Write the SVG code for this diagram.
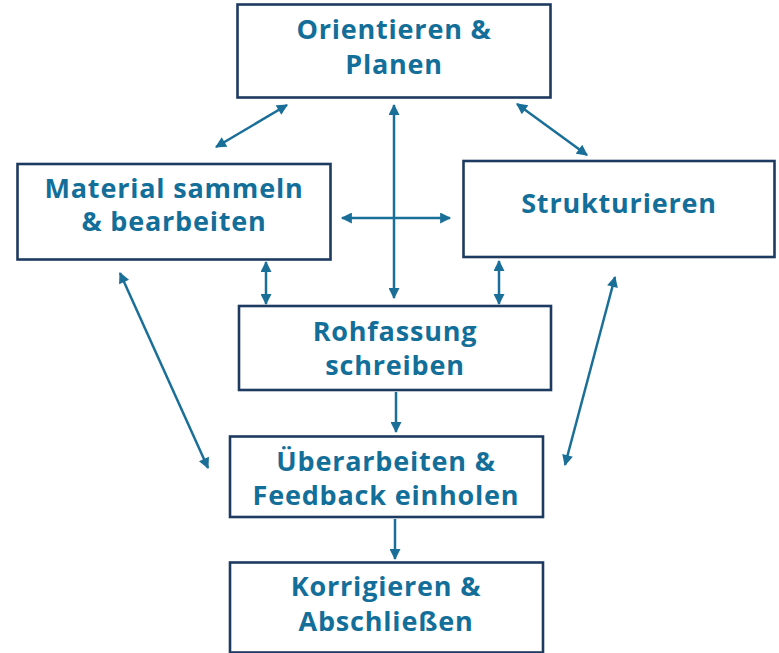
<svg xmlns="http://www.w3.org/2000/svg" width="779" height="653" viewBox="0 0 779 653">
<style>
.box{fill:#ffffff;stroke:#1d3a60;stroke-width:2.6}
.lbl{font-family:"Open Sans","Noto Sans","Liberation Sans",sans-serif;font-weight:700;font-size:27px;letter-spacing:0.8px;fill:#136f99;text-anchor:middle}
.con{stroke:#1a6f99;stroke-width:2.5;fill:none}
</style>
<defs>
<marker id="ah" viewBox="0 0 10 10" refX="9" refY="5" markerWidth="12" markerHeight="11" markerUnits="userSpaceOnUse" orient="auto-start-reverse">
<path d="M0,0 L10,5 L0,10 z" fill="#1a6f99"/>
</marker>
</defs>
<rect width="779" height="653" fill="#ffffff"/>
<g id="connectors">
<line class="con" x1="287" y1="105" x2="216" y2="147" marker-start="url(#ah)" marker-end="url(#ah)"/>
<line class="con" x1="517" y1="104" x2="587" y2="155" marker-start="url(#ah)" marker-end="url(#ah)"/>
<line class="con" x1="394" y1="105" x2="394" y2="298" marker-start="url(#ah)" marker-end="url(#ah)"/>
<line class="con" x1="342" y1="218" x2="450" y2="218" marker-start="url(#ah)" marker-end="url(#ah)"/>
<line class="con" x1="266" y1="262" x2="266" y2="304" marker-start="url(#ah)" marker-end="url(#ah)"/>
<line class="con" x1="499" y1="261" x2="499" y2="304" marker-start="url(#ah)" marker-end="url(#ah)"/>
<line class="con" x1="120" y1="273" x2="208" y2="468" marker-start="url(#ah)" marker-end="url(#ah)"/>
<line class="con" x1="615" y1="277" x2="565" y2="465" marker-start="url(#ah)" marker-end="url(#ah)"/>
<line class="con" x1="396" y1="392" x2="396" y2="432" marker-end="url(#ah)"/>
<line class="con" x1="395" y1="519" x2="395" y2="559" marker-end="url(#ah)"/>
</g>
<g id="n1">
<rect class="box" x="237.5" y="4.5" width="313" height="93"/>
<text class="lbl" x="394" y="39">Orientieren &amp;</text>
<text class="lbl" x="394" y="74">Planen</text>
</g>
<g id="n2">
<rect class="box" x="17.5" y="164" width="313" height="95.5"/>
<text class="lbl" x="174" y="198">Material sammeln</text>
<text class="lbl" x="174" y="231">&amp; bearbeiten</text>
</g>
<g id="n3">
<rect class="box" x="463.5" y="161" width="311" height="96"/>
<text class="lbl" x="619" y="213">Strukturieren</text>
</g>
<g id="n4">
<rect class="box" x="239" y="306" width="312" height="84"/>
<text class="lbl" x="395" y="341">Rohfassung</text>
<text class="lbl" x="395" y="375">schreiben</text>
</g>
<g id="n5">
<rect class="box" x="230" y="436.5" width="313" height="80.5"/>
<text class="lbl" x="386" y="471">Überarbeiten &amp;</text>
<text class="lbl" x="386" y="505">Feedback einholen</text>
</g>
<g id="n6">
<rect class="box" x="230" y="562.5" width="313" height="90"/>
<text class="lbl" x="386" y="596">Korrigieren &amp;</text>
<text class="lbl" x="386" y="631">Abschließen</text>
</g>
</svg>
